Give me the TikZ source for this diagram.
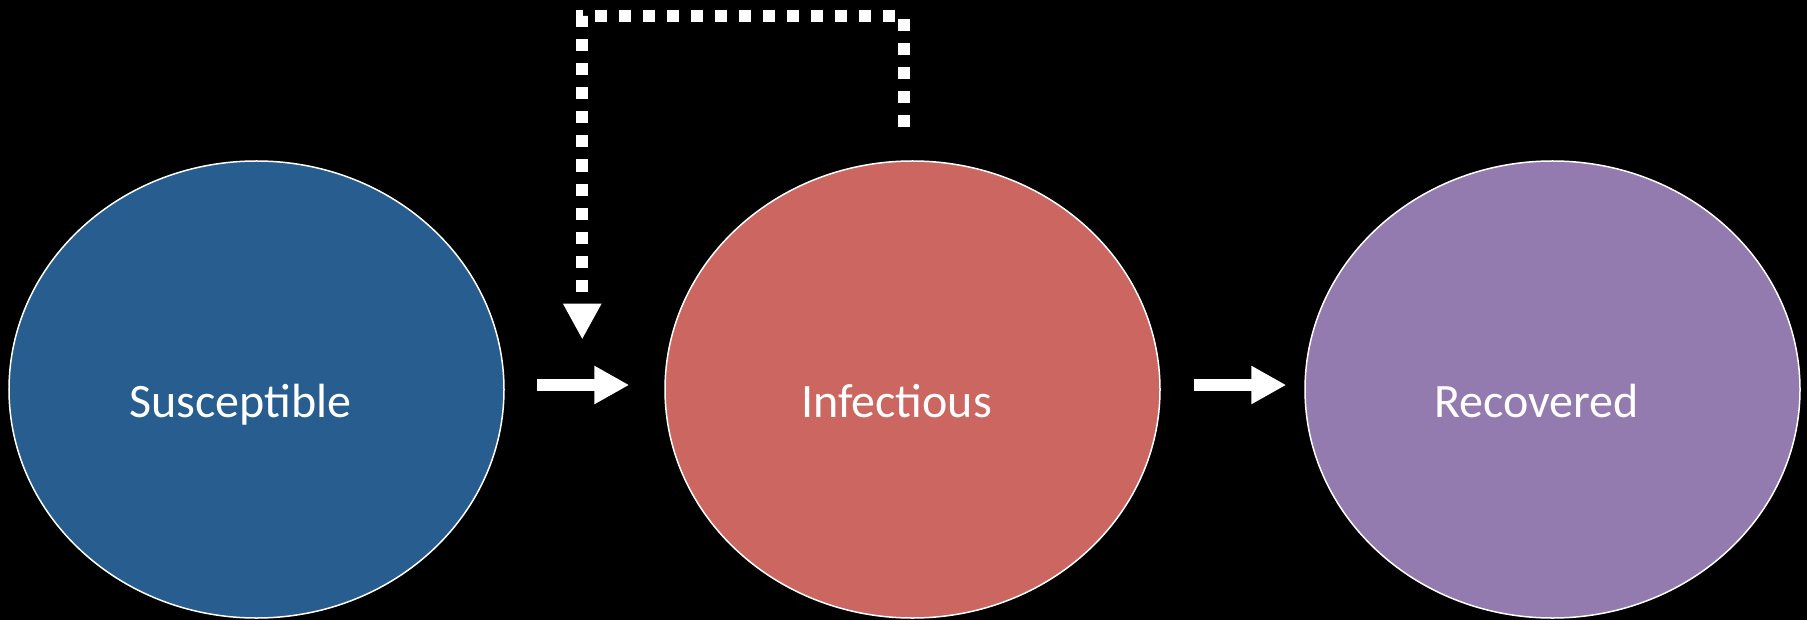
\documentclass[tikz,border=0pt]{standalone}
\usepackage{fontspec}
\setmainfont{Carlito}
\usetikzlibrary{shapes.geometric,arrows.meta,calc}
\definecolor{sblue}{RGB}{40,94,143}
\definecolor{ired}{RGB}{204,102,96}
\definecolor{rpurple}{RGB}{147,123,176}
\begin{document}
\begin{tikzpicture}[x=1bp,y=-1bp,
  compart/.style={ellipse,draw=white,line width=1.5bp,minimum width=495bp,minimum height=457bp,inner sep=0pt},
  lbl/.style={anchor=base,text=white,font=\fontsize{48bp}{57bp}\selectfont,inner sep=0pt},
  flow/.style={draw=white,line width=12bp,-{Triangle[width=36bp,length=35bp]}},
  feedback/.style={draw=white,line width=12bp,dash pattern=on 12bp off 12bp,-{Triangle[width=36bp,length=36bp]}}]
\fill[black] (0,0) rectangle (1807,620);
\useasboundingbox (0,0) rectangle (1807,620);
\node[compart,fill=sblue] (S) at (256.5,389.5) {};
\node[compart,fill=ired] (I) at (912.5,389.5) {};
\node[compart,fill=rpurple] (R) at (1552.5,389.5) {};
\node[lbl] (St) at ($(S.center)+(-16,27.5)$) {Susceptible};
\node[lbl] (It) at ($(I.center)+(-16,27.5)$) {Infectious};
\node[lbl] (Rt) at ($(R.center)+(-16,27.5)$) {Recovered};
\draw[flow] ($(S.east)+(32,-4.5)$) -- ($(I.west)+(-35,-4.5)$);
\draw[flow] ($(I.east)+(33,-4.5)$) -- ($(R.west)+(-18,-4.5)$);
\coordinate (fb) at ($(I.west)+(-82,-50)$);
\draw[feedback] ($(I.north)+(-8.5,-33)$) -- ++(0,-111) -| (fb);
\end{tikzpicture}
\end{document}
